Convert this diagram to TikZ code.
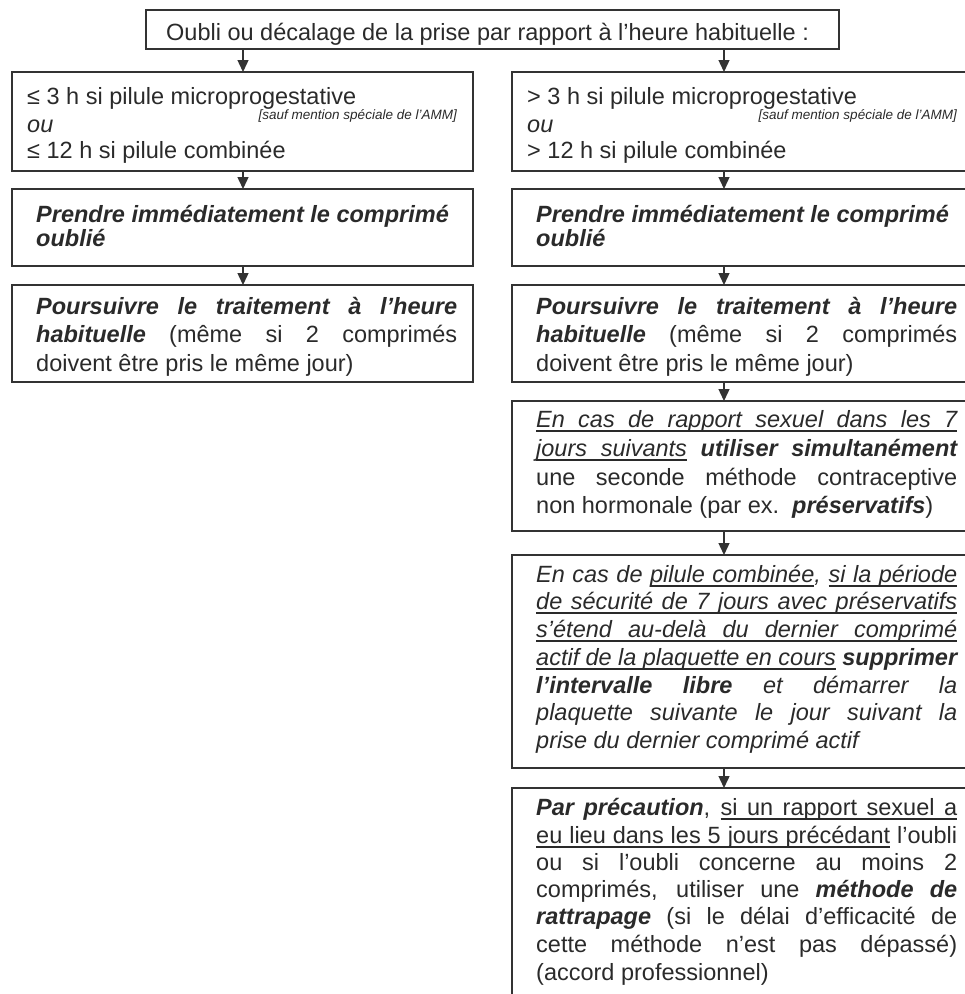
\documentclass[tikz,border=0pt]{standalone}
\usepackage{fontspec}
\setmainfont{Liberation Sans}
\usetikzlibrary{arrows.meta}
\definecolor{ink}{HTML}{2A2A2A}
\definecolor{frame}{HTML}{333333}
\newcommand\BI[1]{{\bfseries\itshape #1}}
\newcommand\jl[1]{\makebox[421pt][s]{#1}}
% home-made underline (words + stretchable underlined spaces)
\newcommand\uw[1]{\setbox0=\hbox{#1}\rlap{\vrule height -3.4pt depth 4.6pt width \wd0}\box0\relax}
\newcommand\us{\leaders\hrule height -3.4pt depth 4.6pt\hskip\fontdimen2\font plus\fontdimen3\font minus\fontdimen4\font\relax}
\makeatletter
\def\ulx#1{\leavevmode\ul@a#1 \@nil}
\def\ul@a#1 #2\@nil{\uw{#1}\ifx\relax#2\relax\else\us\ul@a#2\@nil\fi}
\makeatother
\begin{document}
\begin{tikzpicture}[x=1pt,y=-1pt,
  box/.style={draw=frame, line width=1.7pt, rectangle, inner sep=0pt, outer sep=0pt, anchor=north west},
  txt/.style={inner sep=0pt, anchor=base west, text=ink, font=\fontsize{23.5}{27.5}\selectfont},
  note/.style={inner sep=0pt, anchor=base east, text=ink, font=\fontsize{13.5}{15}\selectfont\itshape},
  arr/.style={draw=frame, line width=1.4pt, -{Triangle[width=11pt,length=12pt]}}]
\useasboundingbox (0,0) rectangle (965,994);
\clip (0,0) rectangle (965,994);
% boxes
\node[box, minimum width=693pt, minimum height=39pt] (top) at (146,10) {};
\node[box, minimum width=461pt, minimum height=99pt] (l2) at (12,72) {};
\node[box, minimum width=461pt, minimum height=77pt] (l3) at (12,189) {};
\node[box, minimum width=461pt, minimum height=97pt] (l4) at (12,285) {};
\node[box, minimum width=461pt, minimum height=99pt] (r2) at (512,72) {};
\node[box, minimum width=461pt, minimum height=77pt] (r3) at (512,189) {};
\node[box, minimum width=461pt, minimum height=97pt] (r4) at (512,285) {};
\node[box, minimum width=461pt, minimum height=130pt] (r5) at (512,401) {};
\node[box, minimum width=461pt, minimum height=213pt] (r6) at (512,555) {};
\node[box, minimum width=461pt, minimum height=240pt] (r7) at (512,788) {};
% arrows
\coordinate (lx) at (243,0);
\coordinate (rx) at (724,0);
\draw[arr] (top.south -| lx) -- (l2.north -| lx);
\draw[arr] (top.south -| rx) -- (r2.north -| rx);
\draw[arr] (l2.south -| lx) -- (l3.north -| lx);
\draw[arr] (l3.south -| lx) -- (l4.north -| lx);
\draw[arr] (r2.south -| rx) -- (r3.north -| rx);
\draw[arr] (r3.south -| rx) -- (r4.north -| rx);
\draw[arr] (r4.south -| rx) -- (r5.north -| rx);
\draw[arr] (r5.south -| rx) -- (r6.north -| rx);
\draw[arr] (r6.south -| rx) -- (r7.north -| rx);
% top text
\node[txt] (ttop) at (166,40) {Oubli ou décalage de la prise par rapport à l'heure habituelle :};
% row 2
\node[txt] (l2a) at (27,104) {≤ 3 h si pilule microprogestative};
\node[note] (l2n) at (457,119.5) {[sauf mention spéciale de l'AMM]};
\node[txt] (l2b) at (27,132) {\itshape ou};
\node[txt] (l2c) at (27,158) {≤ 12 h si pilule combinée};
\node[txt] (r2a) at (527,104) {> 3 h si pilule microprogestative};
\node[note] (r2n) at (957,119.5) {[sauf mention spéciale de l'AMM]};
\node[txt] (r2b) at (527,132) {\itshape ou};
\node[txt] (r2c) at (527,158) {> 12 h si pilule combinée};
% row 3
\node[txt] (l3a) at (36,222) {\BI{Prendre immédiatement le comprimé}};
\node[txt] (l3b) at (36,246) {\BI{oublié}};
\node[txt] (r3a) at (536,222) {\BI{Prendre immédiatement le comprimé}};
\node[txt] (r3b) at (536,246) {\BI{oublié}};
% row 4
\node[txt] (l4a) at (36,314) {\jl{\BI{Poursuivre le traitement à l'heure}}};
\node[txt] (l4b) at (36,342) {\jl{\BI{habituelle} (même si 2 comprimés}};
\node[txt] (l4c) at (36,371) {doivent être pris le même jour)};
\node[txt] (r4a) at (536,314) {\jl{\BI{Poursuivre le traitement à l'heure}}};
\node[txt] (r4b) at (536,342) {\jl{\BI{habituelle} (même si 2 comprimés}};
\node[txt] (r4c) at (536,371) {doivent être pris le même jour)};
% row 5
\node[txt] (r5a) at (536,427) {\jl{\itshape\ulx{En cas de rapport sexuel dans les 7}}};
\node[txt] (r5b) at (536,456) {\jl{\itshape\ulx{jours suivants} \BI{utiliser simultanément}}};
\node[txt] (r5c) at (536,485) {\jl{une seconde méthode contraceptive}};
\node[txt] (r5d) at (536,513) {non hormonale (par ex.\ \ \BI{préservatifs})};
% row 6
\node[txt] (r6a) at (536,582) {\jl{\itshape En cas de \ulx{pilule combinée}, \ulx{si la période}}};
\node[txt] (r6b) at (536,609) {\jl{\itshape\ulx{de sécurité de 7 jours avec préservatifs}}};
\node[txt] (r6c) at (536,637) {\jl{\itshape\ulx{s'étend au-delà du dernier comprimé}}};
\node[txt] (r6d) at (536,665) {\jl{\itshape\ulx{actif de la plaquette en cours} \BI{supprimer}}};
\node[txt] (r6e) at (536,693) {\jl{\itshape\BI{l'intervalle libre} et démarrer la}};
\node[txt] (r6f) at (536,720) {\jl{\itshape plaquette suivante le jour suivant la}};
\node[txt] (r6g) at (536,748) {\itshape prise du dernier comprimé actif};
% row 7
\node[txt] (r7a) at (536,815) {\jl{\BI{Par précaution}, \ulx{si un rapport sexuel a}}};
\node[txt] (r7b) at (536,843) {\jl{\ulx{eu lieu dans les 5 jours précédant} l'oubli}};
\node[txt] (r7c) at (536,870) {\jl{ou si l'oubli concerne au moins 2}};
\node[txt] (r7d) at (536,897) {\jl{comprimés, utiliser une \BI{méthode de}}};
\node[txt] (r7e) at (536,924) {\jl{\BI{rattrapage} (si le délai d'efficacité de}};
\node[txt] (r7f) at (536,952) {\jl{cette méthode n'est pas dépassé)}};
\node[txt] (r7g) at (536,980) {(accord professionnel)};
\end{tikzpicture}
\end{document}
